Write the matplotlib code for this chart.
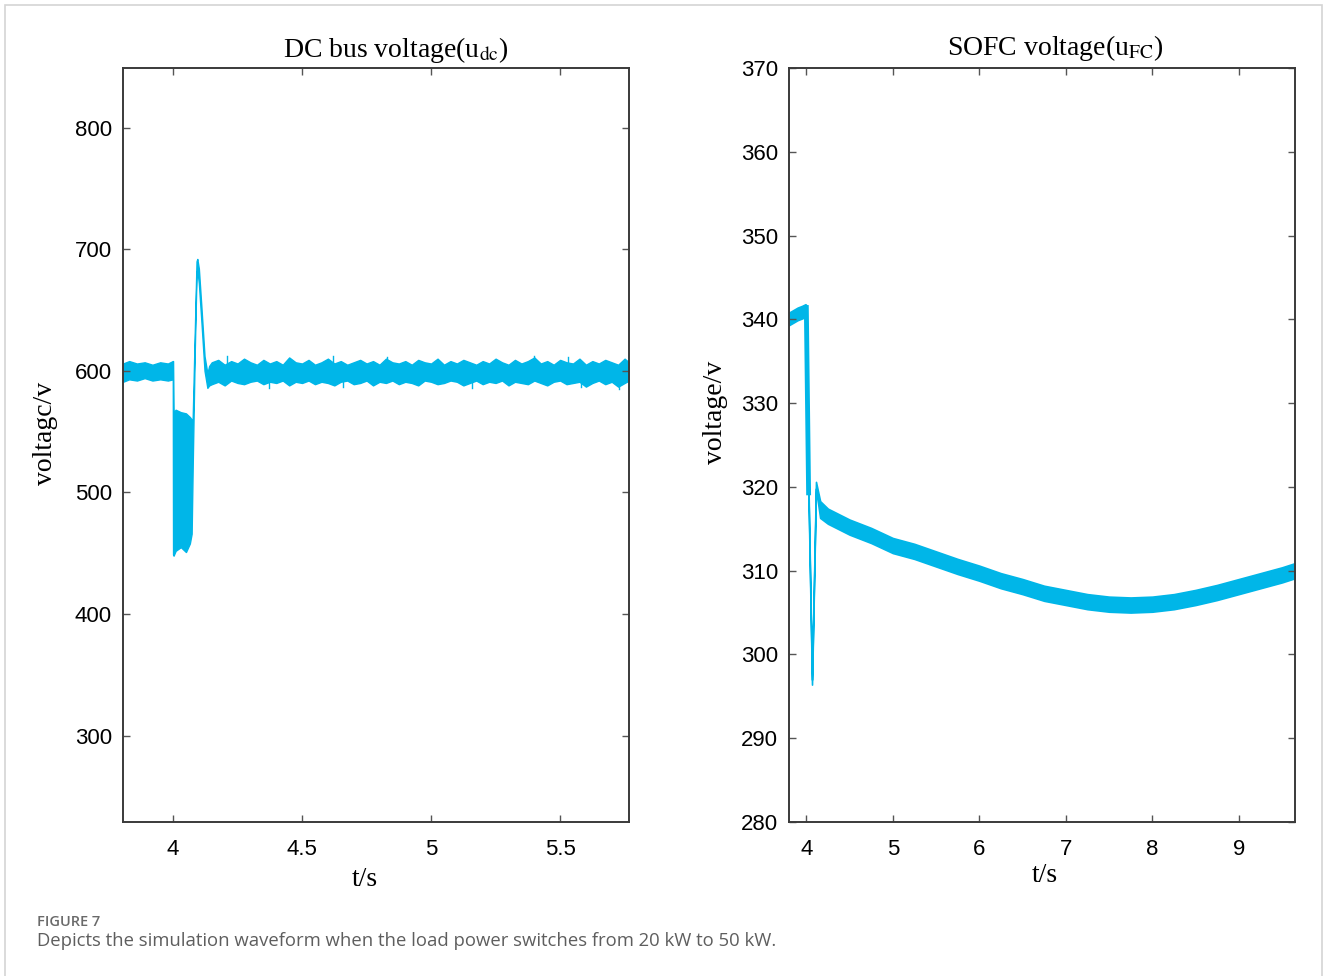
import matplotlib
matplotlib.use("Agg")
import matplotlib.pyplot as plt
from matplotlib.patches import Rectangle

# ---- DC bus voltage (left panel): band envelope ----
t_dc = [3.806, 3.83, 3.86, 3.89, 3.92, 3.95, 3.98, 3.999,
        4.000, 4.002, 4.010, 4.030, 4.050, 4.065, 4.072,
        4.076, 4.084, 4.091, 4.094, 4.100, 4.110, 4.122, 4.133, 4.140,
        4.150, 4.175, 4.200, 4.225, 4.250, 4.275, 4.300, 4.325, 4.350, 4.375,
        4.400, 4.425, 4.450, 4.475, 4.500, 4.525, 4.550, 4.575, 4.600, 4.625,
        4.650, 4.675, 4.700, 4.725, 4.750, 4.775, 4.800, 4.825, 4.850, 4.875,
        4.900, 4.925, 4.950, 4.975, 5.000, 5.025, 5.050, 5.075, 5.100, 5.125,
        5.150, 5.175, 5.200, 5.225, 5.250, 5.275, 5.300, 5.325, 5.350, 5.375,
        5.400, 5.425, 5.450, 5.475, 5.500, 5.525, 5.550, 5.575, 5.600, 5.625,
        5.650, 5.675, 5.700, 5.725, 5.750, 5.767]
dc_lo = [591, 593, 592, 594, 592, 593, 592, 593,
         449, 448, 452, 455, 451, 458, 466,
         520, 615, 680, 683, 672, 640, 600, 586, 588,
         589, 591, 588, 592, 590, 589, 591, 592, 589, 591,
         590, 592, 588, 591, 590, 592, 589, 591, 590, 588,
         591, 592, 589, 590, 592, 588, 591, 590, 592, 589,
         591, 590, 588, 592, 591, 589, 590, 592, 591, 588,
         590, 592, 589, 591, 590, 592, 588, 591, 590, 589,
         592, 590, 588, 591, 592, 589, 590, 591, 587, 590,
         592, 589, 591, 587, 590, 592]
dc_hi = [606, 608, 606, 607, 605, 607, 606, 608,
         608, 566, 568, 566, 565, 562, 560,
         560, 630, 690, 692, 684, 652, 612, 598, 604,
         607, 609, 605, 608, 606, 610, 607, 605, 609, 606,
         608, 605, 611, 607, 606, 609, 605, 607, 610, 606,
         608, 605, 607, 609, 606, 608, 605, 610, 607, 606,
         608, 605, 609, 607, 606, 610, 605, 608, 606, 609,
         607, 605, 608, 606, 610, 607, 605, 609, 606, 608,
         611, 606, 608, 605, 609, 607, 606, 610, 605, 608,
         606, 609, 607, 605, 610, 607]
# a few sharper noise spikes (time, value)
dc_spk_t = [4.21, 4.37, 4.62, 4.66, 4.83, 5.16, 5.40, 5.53, 5.58, 5.73]
dc_spk_v = [612, 586, 612, 587, 611, 586, 612, 611, 587, 585]

# ---- SOFC voltage (right panel) ----
t_fc = [3.80, 3.85, 3.90, 3.95, 3.99, 4.000,
        4.027, 4.066, 4.112, 4.16,
        4.25, 4.50, 4.75, 5.00, 5.25, 5.50, 5.75, 6.00, 6.25, 6.50,
        6.75, 7.00, 7.25, 7.50, 7.75, 8.00, 8.25, 8.50, 8.75, 9.00,
        9.25, 9.50, 9.65]
fc_lo = [339.3, 339.6, 339.9, 340.1, 340.3, 340.0,
         318.0, 296.4, 319.8, 316.3,
         315.6, 314.3, 313.3, 312.1, 311.4, 310.5, 309.6, 308.8, 307.9, 307.2,
         306.4, 305.9, 305.4, 305.1, 305.0, 305.1, 305.4, 305.9, 306.5, 307.2,
         307.9, 308.6, 309.1]
fc_hi = [340.8, 341.1, 341.4, 341.6, 341.8, 341.7,
         319.0, 297.0, 320.6, 318.3,
         317.4, 316.1, 315.1, 313.9, 313.2, 312.3, 311.4, 310.6, 309.7, 309.0,
         308.2, 307.7, 307.2, 306.9, 306.8, 306.9, 307.2, 307.7, 308.3, 309.0,
         309.7, 310.4, 310.9]

dc_ticks_x = [4, 4.5, 5, 5.5]
dc_ticks_y = [300, 400, 500, 600, 700, 800]
fc_ticks_x = [4, 5, 6, 7, 8, 9]
fc_ticks_y = [280, 290, 300, 310, 320, 330, 340, 350, 360, 370]

color = "#00b6e8"
plt.rcParams["mathtext.fontset"] = "stix"
serif = "Liberation Serif"
sans = "Liberation Sans"

W, H = 1328, 976
fig = plt.figure(figsize=(W / 100, H / 100), dpi=100)

def px_rect(x0, y0, x1, y1):
    return [x0 / W, 1 - y1 / H, (x1 - x0) / W, (y1 - y0) / H]

def style(ax):
    for s in ax.spines.values():
        s.set_color("#3a3a3a")
        s.set_linewidth(1.4)
    ax.tick_params(direction="in", top=True, right=True, length=5, width=1,
                   color="#555555", labelsize=16)
    ax.tick_params(axis="y", pad=8)
    ax.tick_params(axis="x", pad=12)
    for lab in ax.get_xticklabels() + ax.get_yticklabels():
        lab.set_family(sans)

ax1 = fig.add_axes(px_rect(123, 68, 629, 822))
ax1.fill_between(t_dc, dc_lo, dc_hi, color=color, lw=1.0, edgecolor=color)
for t, v in zip(dc_spk_t, dc_spk_v):
    ax1.plot([t, t], [600, v], color=color, lw=1.0)
ax1.set_xlim(3.806, 5.767)
ax1.set_ylim(229, 849)
ax1.set_xticks(dc_ticks_x)
ax1.set_xticklabels(["4", "4.5", "5", "5.5"])
ax1.set_yticks(dc_ticks_y)
style(ax1)

ax2 = fig.add_axes(px_rect(789, 68, 1295, 822))
ax2.fill_between(t_fc, fc_lo, fc_hi, color=color, lw=1.2, edgecolor=color)
# the first part of the fall is a thicker stroke in the original
ax2.plot(t_fc[5:7], fc_hi[5:7], color=color, lw=3.5, solid_capstyle="butt")
ax2.set_xlim(3.80, 9.65)
ax2.set_ylim(280, 370)
ax2.set_xticks(fc_ticks_x)
ax2.set_yticks(fc_ticks_y)
style(ax2)

# titles and axis labels
fig.text(396 / W, 1 - 50 / H, r"DC bus voltage(u$_{\mathrm{dc}}$)", family=serif,
         fontsize=20, ha="center", va="center")
fig.text(1055 / W, 1 - 48 / H, r"SOFC voltage(u$_{\mathrm{FC}}$)", family=serif,
         fontsize=20, ha="center", va="center")
fig.text(45 / W, 1 - 433 / H, "voltagc/v", family=serif, fontsize=20,
         rotation=90, ha="center", va="center")
fig.text(716 / W, 1 - 412 / H, "voltage/v", family=serif, fontsize=20,
         rotation=90, ha="center", va="center")
fig.text(365 / W, 1 - 880 / H, "t/s", family=serif, fontsize=20,
         ha="center", va="center")
fig.text(1045 / W, 1 - 875 / H, "t/s", family=serif, fontsize=20,
         ha="center", va="center")

# caption
fig.text(37 / W, 1 - 922 / H, "FIGURE 7", family="Open Sans", fontsize=10.5,
         fontweight="semibold", color="#6a6a6a", ha="left", va="center")
fig.text(37 / W, 1 - 941 / H,
         "Depicts the simulation waveform when the load power switches from 20 kW to 50 kW.",
         family="Open Sans", fontsize=13.3, color="#5e5e5e", ha="left", va="center")

fig.patches.append(Rectangle((5 / W, -0.01), 1317 / W, 1 - 5 / H + 0.01,
                             transform=fig.transFigure, fill=False,
                             edgecolor="#d4d4d4", lw=1.2))

fig.savefig("out.png", dpi=100)
